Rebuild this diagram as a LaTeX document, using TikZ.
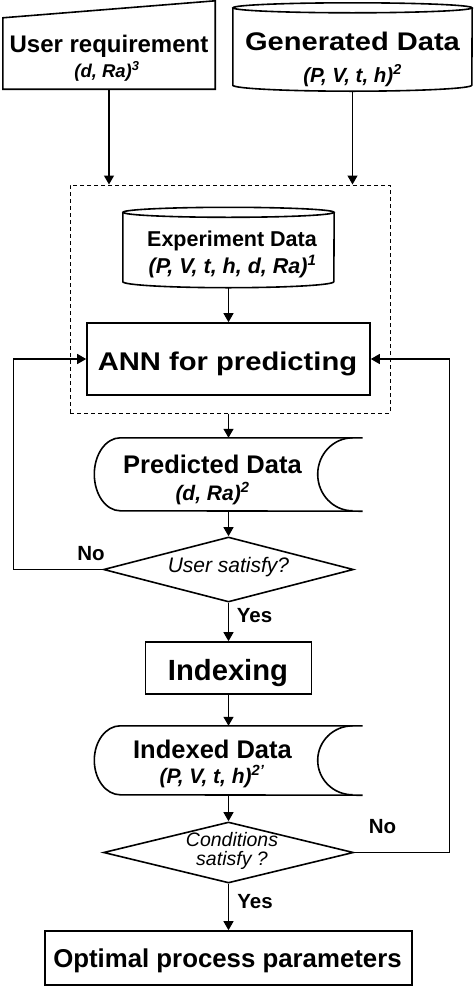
\documentclass[tikz,border=0pt]{standalone}
\usepackage{fontspec}
\setmainfont{Liberation Sans}
\newfontfamily\widefont[FakeStretch=1.14]{Liberation Sans}
\usetikzlibrary{arrows.meta,shapes.geometric}
\newcommand{\fsz}[1]{\fontsize{#1}{#1}\selectfont}

\begin{document}
\begin{tikzpicture}[x=1pt,y=-1pt,>={Triangle[length=9pt,width=10pt]}]
\tikzstyle{every node}=[inner sep=0pt]
\tikzstyle{frame}=[rectangle]
\tikzstyle{process}=[draw, rectangle, line width=1.6pt]
\tikzstyle{decision}=[draw, diamond, line width=1.6pt]
\tikzstyle{outline}=[line width=1.6pt]
\tikzstyle{title}=[anchor=base, font=\bfseries]
\tikzstyle{data}=[anchor=base, font=\bfseries\itshape]
\tikzstyle{answer}=[anchor=base, font=\bfseries\fsz{20.5}]
\tikzstyle{flow}=[->, line width=1.2pt]

\useasboundingbox (0,0) rectangle (474,988);

% inputs
\node[frame, minimum width=212, minimum height=71] (user) at (109, 53.5) {};
\draw[outline] (user.south west) -- (user.north west) -- ([yshift=17pt]user.north east) -- (user.south east) -- cycle;
\node[title] (usertitle) at (109, 52) {\fsz{24}User requirement};
\node[data] (userdata) at (107, 77) {\fsz{18.5}(d, Ra)\textsuperscript{3}};

\node[frame, minimum width=239, minimum height=88] (gen) at (352.5, 47) {};
\draw[outline] ([yshift=-5pt]gen.north) ellipse [x radius=119.5pt, y radius=5pt];
\draw[outline] ([yshift=-5pt]gen.north west) -- ([yshift=6pt]gen.south west) arc[start angle=180, end angle=360, x radius=119.5pt, y radius=6pt] -- ([yshift=-5pt]gen.north east);
\node[title] (gentitle) at (352.5, 50) {\widefont\fsz{25.5}Generated Data};
\node[data] (gendata) at (352.5, 82) {\fsz{20.5}(P, V, t, h)\textsuperscript{2}};

% ANN block
\node[draw, dashed, dash pattern=on 4pt off 3pt, line width=1pt, minimum width=320, minimum height=228] (box) at (230, 299) {};

\node[frame, minimum width=211, minimum height=80] (exp) at (228.5, 247.5) {};
\draw[outline] ([yshift=-5pt]exp.north) ellipse [x radius=105.5pt, y radius=5pt];
\draw[outline] ([yshift=-5pt]exp.north west) -- ([yshift=6pt]exp.south west) arc[start angle=180, end angle=360, x radius=105.5pt, y radius=6pt] -- ([yshift=-5pt]exp.north east);
\node[title] (exptitle) at (232, 246) {\fsz{21.5}Experiment Data};
\node[data] (expdata) at (232.5, 273) {\fsz{21.5}(P, V, t, h, d, Ra)\textsuperscript{1}};

\node[process, minimum width=283, minimum height=72] (ann) at (228.5, 359) {};
\node[title] (anntitle) at (227.5, 370) {\widefont\fsz{25.6}ANN for predicting};

% predicted data
\node[frame, minimum width=268, minimum height=73] (pred) at (228.5, 474.5) {};
\draw[outline] (pred.north east) -- ([xshift=26pt]pred.north west) arc[start angle=90, end angle=270, x radius=26pt, y radius=36.5pt] -- (pred.south east);
\draw[outline] ([xshift=-10pt]pred.north east) arc[start angle=90, end angle=270, x radius=35pt, y radius=36.5pt];
\node[title] (predtitle) at (212.5, 473) {\fsz{25.5}Predicted Data};
\node[data] (preddata) at (212.5, 500) {\fsz{21}(d, Ra)\textsuperscript{2}};

\node[decision, minimum width=250, minimum height=65] (usat) at (228.5, 569.5) {};
\node[anchor=base, font=\itshape\fsz{21}] (usattext) at (228.5, 572) {User satisfy?};

% indexing
\node[process, minimum width=166, minimum height=52] (index) at (228.5, 668) {};
\node[title] (indextitle) at (228, 680) {\fsz{29.2}Indexing};

\node[frame, minimum width=268, minimum height=69] (idx) at (228.5, 760.5) {};
\draw[outline] (idx.north east) -- ([xshift=26pt]idx.north west) arc[start angle=90, end angle=270, x radius=26pt, y radius=34.5pt] -- (idx.south east);
\draw[outline] ([xshift=-10pt]idx.north east) arc[start angle=90, end angle=270, x radius=35pt, y radius=34.5pt];
\node[title] (idxtitle) at (212.5, 758) {\fsz{25.5}Indexed Data};
\node[data] (idxdata) at (212, 783) {\fsz{21}(P, V, t, h)\textsuperscript{2’}};

\node[decision, minimum width=250, minimum height=61] (cond) at (228.5, 852.5) {};
\node[align=center, font=\itshape\fsz{19.5}] (condtext) at (232, 851) {\fontsize{19.5}{21}\selectfont Conditions\\ satisfy ?};

\node[process, minimum width=367, minimum height=54] (best) at (228.5, 958) {};
\node[title] (besttitle) at (227.5, 967) {\fsz{25.8}Optimal process parameters};

% answers
\node[answer] (no1) at (91, 560) {No};
\node[answer] (yes1) at (254.5, 622) {Yes};
\node[answer] (no2) at (382.5, 833) {No};
\node[answer] (yes2) at (255, 908) {Yes};

% arrows
\draw[flow] (user.south) -- (user.south |- box.north);
\draw[flow] (gen.south) -- (gen.south |- box.north);
\draw[flow] (exp.south) -- (ann.north);
\draw[flow] (box.south -| pred.north) -- (pred.north);
\draw[flow] (pred.south) -- (usat.north);
\draw[flow] (usat.south) -- (index.north);
\draw[flow] (index.south) -- (idx.north);
\draw[flow] (idx.south) -- (cond.north);
\draw[flow] (cond.south) -- (best.north);
\draw[flow] (usat.west) -- ++(-89,0) |- (ann.west);
\draw[flow] (cond.east) -- ++(95,0) |- (ann.east);

\end{tikzpicture}
\end{document}
